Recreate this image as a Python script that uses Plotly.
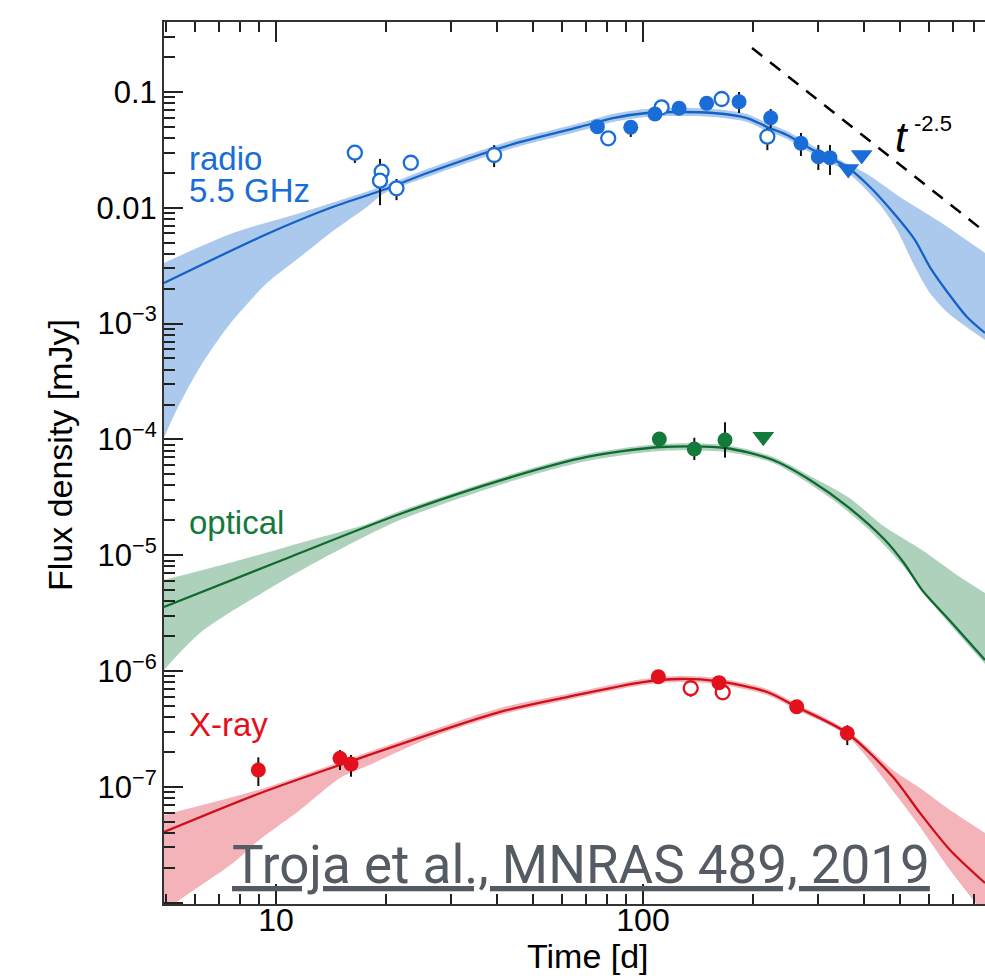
import plotly.graph_objects as go

# ---------------- data (time in days, flux density in mJy) ----------------
# Radio 5.5 GHz
radio_open_t = [16.4, 19.4, 19.2, 21.3, 23.3, 39.3, 80.4, 112.4, 163.8, 218.2]
radio_open_f = [0.0299, 0.0205, 0.01714, 0.01474, 0.0245, 0.02857, 0.0398, 0.0738, 0.0870, 0.0411]
radio_open_ep = [0.0049, 0, 0.0093, 0.0030, 0, 0.0062, 0, 0, 0, 0.0078]
radio_open_em = [0.0055, 0, 0.0066, 0.0031, 0, 0.0061, 0, 0, 0, 0.0096]

radio_fill_t = [75.1, 92.6, 107.8, 125.4, 149.1, 182.7, 222.8, 269.4, 300.4, 323.2]
radio_fill_f = [0.0502, 0.0496, 0.0646, 0.0723, 0.0799, 0.0824, 0.060, 0.0361, 0.0276, 0.0271]
radio_fill_ep = [0.0049, 0.0055, 0, 0, 0, 0.0176, 0.0113, 0.0082, 0.0073, 0.0078]
radio_fill_em = [0.0059, 0.0087, 0, 0, 0, 0.0165, 0.0111, 0.0081, 0.0064, 0.0079]

radio_ul_t = [362.6, 394.4]
radio_ul_f = [0.0216, 0.0286]

radio_model_t = [4.95, 9.45, 14.03, 19.57, 26.28, 43.4, 67.3, 82.8, 102.5, 126.1, 155.1, 192.0,
                 217.7, 246.9, 290.5, 359.6, 415.5, 492.1, 551, 605, 678, 763.5, 855]
radio_model_f = [2.24e-3, 5.94e-3, 9.96e-3, 1.425e-2, 2.038e-2, 3.485e-2, 4.99e-2, 5.96e-2, 6.59e-2,
                 6.72e-2, 6.59e-2, 5.96e-2, 4.99e-2, 4.25e-2, 3.155e-2, 2.25e-2, 1.512e-2, 8.33e-3,
                 5.27e-3, 3.08e-3, 1.84e-3, 1.14e-3, 8.30e-4]
radio_hi_t = [4.95, 7.64, 11.63, 19.57, 26.28, 43.4, 67.3, 82.8, 102.5, 126.1, 155.1, 192.0, 217.7,
              246.9, 290.5, 344.2, 407.7, 501.4, 644.8, 855]
radio_hi_f = [3.34e-3, 6.06e-3, 9.02e-3, 1.543e-2, 2.207e-2, 3.775e-2, 5.40e-2, 6.46e-2, 7.13e-2,
              7.27e-2, 7.13e-2, 6.46e-2, 5.40e-2, 4.60e-2, 3.42e-2, 2.587e-2, 1.958e-2, 1.24e-2,
              7.54e-3, 4.07e-3]
radio_lo_t = [4.95, 5.31, 5.76, 6.21, 6.74, 7.64, 9.45, 11.63, 14.3, 17.7, 19.57, 26.28, 43.4, 67.3,
              82.8, 102.5, 126.1, 155.1, 192.0, 217.7, 246.9, 290.5, 359.6, 442.4, 492.1, 551, 605,
              678, 855]
radio_lo_f = [1.03e-4, 1.69e-4, 2.78e-4, 4.22e-4, 6.28e-4, 1.074e-3, 2.24e-3, 3.76e-3, 6.30e-3,
              1.016e-2, 1.316e-2, 1.882e-2, 3.22e-2, 4.60e-2, 5.51e-2, 6.08e-2, 6.20e-2, 6.08e-2,
              5.51e-2, 4.60e-2, 3.93e-2, 2.915e-2, 2.038e-2, 1.057e-2, 6.43e-3, 3.08e-3, 1.837e-3,
              1.234e-3, 7.22e-4]

# Optical
opt_t = [110.8, 138.0, 167.3]
opt_f = [1.008e-4, 8.26e-5, 9.88e-5]
opt_ep = [0, 2.08e-5, 4.18e-5]
opt_em = [0, 1.62e-5, 2.93e-5]
opt_ul_t = [212.7]
opt_ul_f = [1.055e-4]

opt_model_t = [4.95, 10.25, 21.77, 43.95, 70.4, 111.9, 167.3, 226.1, 285.1, 361.9, 456.4, 514.2,
               575.7, 695, 855]
opt_model_f = [3.57e-6, 8.91e-6, 2.27e-5, 4.74e-5, 7.05e-5, 8.60e-5, 8.43e-5, 6.64e-5, 4.46e-5,
               2.61e-5, 1.353e-5, 8.56e-6, 5.01e-6, 2.60e-6, 1.245e-6]
opt_hi_t = [4.95, 7.64, 11.63, 17.7, 21.77, 43.95, 70.4, 111.9, 167.3, 226.1, 285.1, 361.9, 456.4,
            575.7, 730.7, 855]
opt_hi_f = [6.11e-6, 8.74e-6, 1.274e-5, 1.859e-5, 2.41e-5, 5.02e-5, 7.48e-5, 9.13e-5, 8.95e-5,
            7.05e-5, 4.83e-5, 3.18e-5, 1.751e-5, 1.109e-5, 6.48e-6, 4.72e-6]
opt_lo_t = [4.95, 6.21, 9.45, 14.3, 21.77, 43.95, 70.4, 111.9, 167.3, 226.1, 321.2, 405.2, 514.2,
            648.6, 855]
opt_lo_f = [1.02e-6, 2.13e-6, 5.01e-6, 1.045e-5, 2.01e-5, 4.37e-5, 6.51e-5, 7.94e-5, 7.78e-5,
            6.25e-5, 3.18e-5, 1.751e-5, 7.91e-6, 3.11e-6, 1.149e-6]

# X-ray
xr_fill_t = [8.95, 14.94, 16.01, 110.1, 161.1, 262.3, 360.3]
xr_fill_f = [1.396e-7, 1.762e-7, 1.574e-7, 8.93e-7, 7.93e-7, 4.92e-7, 2.90e-7]
xr_fill_ep = [4.02e-8, 3.17e-8, 3.08e-8, 0, 0, 0, 5.0e-8]
xr_fill_em = [3.80e-8, 3.66e-8, 3.52e-8, 0, 0, 0, 6.1e-8]
xr_open_t = [134.9, 164.9]
xr_open_f = [7.10e-7, 6.55e-7]
xr_open_ep = [0, 0]
xr_open_em = [1.1e-7, 0]

xr_model_t = [4.95, 8.93, 14.94, 40.8, 62.1, 100, 126.1, 159.1, 217.7, 262.8, 359.6, 479.9,
              568.6, 686.3, 855]
xr_model_f = [4.07e-8, 8.67e-8, 1.543e-7, 4.43e-7, 5.96e-7, 8.03e-7, 8.53e-7, 8.19e-7, 6.59e-7,
              4.89e-7, 2.915e-7, 1.215e-7, 5.94e-8, 2.85e-8, 1.477e-8]
xr_hi_t = [4.95, 8.93, 14.94, 40.8, 62.1, 100, 126.1, 159.1, 217.7, 262.8, 359.6, 479.9, 568.6,
           686.3, 855]
xr_hi_f = [5.71e-8, 9.38e-8, 1.638e-7, 4.79e-7, 6.33e-7, 8.53e-7, 9.05e-7, 8.70e-7, 6.99e-7,
           5.19e-7, 3.09e-7, 1.396e-7, 9.76e-8, 6.30e-8, 3.99e-8]
xr_lo_t = [4.95, 5.37, 7.64, 8.93, 11.63, 14.94, 17.7, 26.28, 40.8, 62.1, 100, 126.1, 159.1,
           217.7, 262.8, 359.6, 479.9, 568.6, 686.3, 855]
xr_lo_f = [7.82e-9, 1.01e-8, 2.20e-8, 3.40e-8, 6.30e-8, 1.19e-7, 1.512e-7, 2.64e-7, 4.17e-7,
           5.62e-7, 7.57e-7, 8.03e-7, 7.72e-7, 6.20e-7, 4.60e-7, 2.75e-7, 9.20e-8, 4.50e-8,
           1.91e-8, 7.82e-9]

# t^-2.5 guide
dash_t = [198.2, 855]
dash_f = [0.24, 6.18e-3]

# axis ticks
x_major = [10, 100]
x_major_text = ["10", "100"]
y_major = [1e-8, 1e-7, 1e-6, 1e-5, 1e-4, 1e-3, 0.01, 0.1]
y_major_text = ["", "10<sup>\u22127</sup>", "10<sup>\u22126</sup>", "10<sup>\u22125</sup>",
                "10<sup>\u22124</sup>", "10<sup>\u22123</sup>", "0.01", "0.1"]

# ---------------- styles ----------------
BLUE, BLUE_L, BLUE_B = "#1a6dd6", "#1462c6", "#abc9ec"
GREEN, GREEN_L, GREEN_B = "#137a3c", "#0f6a30", "#aed1bc"
RED, RED_L, RED_B = "#e3111b", "#cf101b", "#f3b3b9"
FONT = "Liberation Sans, Arial, Helvetica, sans-serif"

fig = go.Figure()


def band(t_lo, f_lo, t_hi, f_hi, color):
    fig.add_trace(go.Scatter(x=t_lo, y=f_lo, mode="lines",
                             line=dict(width=0, shape="spline", smoothing=0.8),
                             hoverinfo="skip", showlegend=False))
    fig.add_trace(go.Scatter(x=t_hi, y=f_hi, mode="lines",
                             line=dict(width=0, shape="spline", smoothing=0.8),
                             fill="tonexty", fillcolor=color, hoverinfo="skip", showlegend=False))


def model(t, f, color):
    fig.add_trace(go.Scatter(x=t, y=f, mode="lines",
                             line=dict(color=color, width=2.3, shape="spline", smoothing=0.8),
                             hoverinfo="skip", showlegend=False))


def pts(t, f, ep, em, color, open_=False):
    fig.add_trace(go.Scatter(
        x=t, y=f, mode="markers",
        marker=dict(symbol="circle", size=14 if open_ else 15,
                    color="white" if open_ else color,
                    line=dict(color=color, width=2.3 if open_ else 0)),
        error_y=dict(type="data", array=ep, arrayminus=em, color="#111111", thickness=2, width=0,
                     visible=True),
        showlegend=False))


def uls(t, f, color):
    fig.add_trace(go.Scatter(x=t, y=f, mode="markers",
                             marker=dict(symbol="triangle-down", size=19, color=color),
                             showlegend=False))


band(radio_lo_t, radio_lo_f, radio_hi_t, radio_hi_f, BLUE_B)
band(opt_lo_t, opt_lo_f, opt_hi_t, opt_hi_f, GREEN_B)
band(xr_lo_t, xr_lo_f, xr_hi_t, xr_hi_f, RED_B)
model(radio_model_t, radio_model_f, BLUE_L)
model(opt_model_t, opt_model_f, GREEN_L)
model(xr_model_t, xr_model_f, RED_L)

fig.add_trace(go.Scatter(x=dash_t, y=dash_f, mode="lines",
                         line=dict(color="black", width=2.5, dash="13px,10px"),
                         hoverinfo="skip", showlegend=False))

pts(radio_open_t, radio_open_f, radio_open_ep, radio_open_em, BLUE, open_=True)
pts(radio_fill_t, radio_fill_f, radio_fill_ep, radio_fill_em, BLUE)
uls(radio_ul_t, radio_ul_f, BLUE)
pts(opt_t, opt_f, opt_ep, opt_em, GREEN)
uls(opt_ul_t, opt_ul_f, GREEN)
pts(xr_open_t, xr_open_f, xr_open_ep, xr_open_em, RED, open_=True)
pts(xr_fill_t, xr_fill_f, xr_fill_ep, xr_fill_em, RED)

x_minor = [k * 10 ** e for e in range(0, 3) for k in range(2, 10)]
y_minor = [k * 10 ** e for e in range(-8, 0) for k in range(2, 10)]

fig.update_xaxes(
    type="log", range=[0.6948, 2.9319],
    tickmode="array", tickvals=x_major, ticktext=x_major_text,
    ticks="inside", ticklen=20, tickwidth=2, tickcolor="#222",
    showline=True, linecolor="#333", linewidth=2, mirror="ticks",
    showgrid=False, zeroline=False,
    tickfont=dict(family=FONT, size=32, color="black"), ticklabelstandoff=-13,
    minor=dict(tickvals=x_minor, ticks="inside", ticklen=10, tickwidth=2, tickcolor="#222",
               showgrid=False),
)
fig.update_yaxes(
    type="log", range=[-8.012, -0.3955],
    tickmode="array", tickvals=y_major, ticktext=y_major_text,
    ticks="inside", ticklen=19, tickwidth=2, tickcolor="#222",
    showline=True, linecolor="#333", linewidth=2, mirror=False,
    showgrid=False, zeroline=False,
    tickfont=dict(family=FONT, size=31, color="black"), ticklabelstandoff=-1,
    minor=dict(tickvals=y_minor, ticks="inside", ticklen=11, tickwidth=2, tickcolor="#222",
               showgrid=False),
)

ann = []


def label(text, x, y, size, color, xanchor="left", angle=0, family=FONT):
    ann.append(dict(text=text, x=x, y=y, xref="paper", yref="paper", showarrow=False,
                    xanchor=xanchor, yanchor="middle", textangle=angle,
                    font=dict(family=family, size=size, color=color)))


label("radio", 0.0280, 0.8458, 33, BLUE)
label("5.5 GHz", 0.0280, 0.8095, 33, BLUE)
label("optical", 0.0280, 0.432, 33, GREEN)
label("X-ray", 0.0280, 0.203, 33, RED)
label("<i>t</i>", 0.8989, 0.8685, 42, "black", xanchor="center")
label("-2.5", 0.911, 0.8844, 22, "black")
label("Flux density [mJy]", -0.1267, 0.509, 34, "black", xanchor="center", angle=-90)
label("Time [d]", 0.5164, -0.059, 34, "black", xanchor="center")
label("<u>Troja et al., MNRAS 489, 2019</u>", 0.0804, 0.0442, 53, "#545b63",
      family="Roboto, sans-serif")

fig.update_layout(
    width=985, height=978,
    margin=dict(l=164, r=0, t=22, b=74),
    paper_bgcolor="white", plot_bgcolor="white",
    annotations=ann, showlegend=False,
)

fig.write_html("out.html", config={"displayModeBar": False})
